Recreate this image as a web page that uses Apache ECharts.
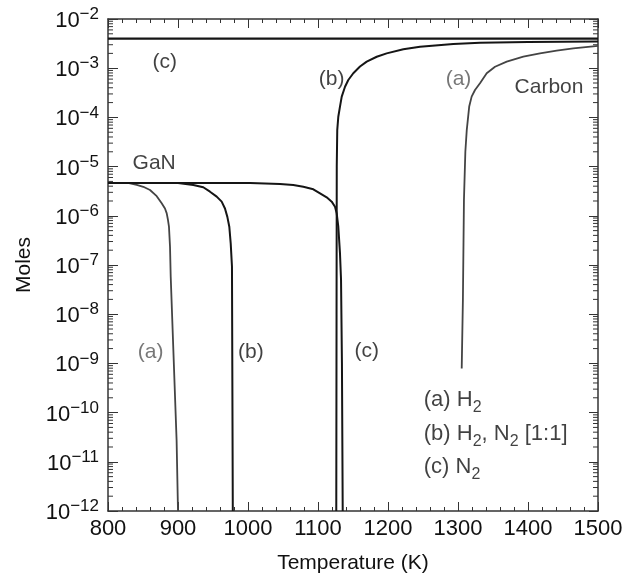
<!DOCTYPE html>
<html>
<head>
<meta charset="utf-8">
<script src="https://cdn.jsdelivr.net/npm/echarts@6/dist/echarts.min.js"></script>
<style>
  html, body { margin: 0; padding: 0; background: #fff; }
  #chart { width: 625px; height: 574px; }
</style>
</head>
<body>
<div id="chart"></div>
<script>
// axis ranges
const X_MIN = 800;
const X_MAX = 1500;
const Y_MIN = 1e-12;
const Y_MAX = 1e-2;

// GaN curves (temperature K, moles)
const ganA_T = [800, 830, 841, 850.4, 860, 869.6, 876.7, 881.4, 883.9, 885.7, 887.1, 888.6, 889.6, 898, 900];
const ganA_M = [4.65e-6, 4.62e-6, 4.23e-6, 3.89e-6, 3.34e-6, 2.51e-6, 1.79e-6, 1.41e-6, 1.12e-6, 8.2e-7, 6.0e-7, 2.34e-7, 5.75e-8, 2.75e-11, 1e-12];

const ganB_T = [800, 900, 921.9, 936.1, 945.7, 955.3, 962.4, 967.1, 970.5, 973.3, 975.3, 977.1, 978.3];
const ganB_M = [4.65e-6, 4.62e-6, 4.23e-6, 3.8e-6, 3.09e-6, 2.45e-6, 1.94e-6, 1.41e-6, 9.5e-7, 6.0e-7, 2.75e-7, 9.3e-8, 1e-12];

const ganC_T = [800, 1003, 1045.7, 1064.7, 1079, 1093.3, 1102.9, 1112.4, 1119.6, 1124.3, 1126.7, 1129, 1131.4, 1132.9, 1134.2, 1135.3];
const ganC_M = [4.65e-6, 4.65e-6, 4.43e-6, 4.23e-6, 3.91e-6, 3.46e-6, 2.86e-6, 2.38e-6, 1.94e-6, 1.53e-6, 1.12e-6, 6.0e-7, 1.74e-7, 5.0e-8, 1e-9, 1e-12];

// Carbon curves
const carbonA_T = [1305.3, 1307, 1308.5, 1310.5, 1312.5, 1316, 1319.5, 1324.3, 1331.4, 1341, 1352.9, 1369.6, 1393.3, 1417.1, 1440.9, 1464.7, 1500];
const carbonA_M = [7.9e-10, 1.95e-8, 2.1e-6, 2.0e-5, 5.5e-5, 1.66e-4, 2.64e-4, 3.6e-4, 4.93e-4, 7.9e-4, 1.07e-3, 1.36e-3, 1.71e-3, 2.0e-3, 2.27e-3, 2.54e-3, 2.83e-3];

const carbonB_T = [1126.1, 1126.5, 1126.8, 1127.5, 1129, 1131.4, 1133.9, 1138.6, 1143.3, 1150.4, 1160, 1169.6, 1183.9, 1198.1, 1221.9, 1245.7, 1293.3, 1331.4, 1400, 1500];
const carbonB_M = [1e-12, 1e-8, 1e-5, 5.5e-5, 1.03e-4, 1.66e-4, 2.64e-4, 4.2e-4, 5.75e-4, 7.9e-4, 1.08e-3, 1.36e-3, 1.71e-3, 2.0e-3, 2.42e-3, 2.74e-3, 3.1e-3, 3.3e-3, 3.42e-3, 3.5e-3];

const carbonC_T = [800, 1500];
const carbonC_M = [4.0e-3, 4.0e-3];

// annotations
const noteTexts = ['(c)', '(b)', '(a)', 'Carbon', 'GaN', '(a)', '(b)', '(c)'];
const noteTemps = [881, 1119.5, 1300.7, 1430, 866, 861, 1004, 1169.5];
const noteMoles = [1.35e-3, 6.0e-4, 6.0e-4, 4.17e-4, 1.17e-5, 1.7e-9, 1.7e-9, 1.8e-9];

const legendTexts = ['{m|(a) H}{s|2}', '{m|(b) H}{s|2}{m|, N}{s|2}{m| [1:1]}', '{m|(c) N}{s|2}'];
const legendTemp = 1250.4;
const legendMoles = [1.6e-10, 3.3e-11, 7.0e-12];

const FONT = '"Liberation Sans", Arial, sans-serif';
const INK = '#111';

const zip = (xs, ys) => xs.map((x, i) => [x, ys[i]]);

// log minor ticks 2..9 per decade
const minorLogTicks = [];
for (let e = -12; e < -2; e++) {
  for (let k = 2; k <= 9; k++) minorLogTicks.push(k * Math.pow(10, e));
}

const lineSeries = (name, data, color, width) => ({
  name,
  type: 'line',
  data,
  showSymbol: false,
  symbol: 'none',
  lineStyle: { color, width, join: 'round' },
  silent: true,
  z: 3,
});

const chart = echarts.init(document.getElementById('chart'));

const supLabel = (v) => {
  const e = Math.round(Math.log10(v));
  return '{b|10}{s|−' + (-e) + '}';
};

chart.setOption({
  animation: false,
  backgroundColor: '#fff',
  textStyle: { fontFamily: FONT },
  grid: { left: 108, right: 27, top: 19, bottom: 63, outerBoundsMode: 'none', containLabel: false },
  xAxis: [
    {
      type: 'value',
      min: X_MIN,
      max: X_MAX,
      interval: 100,
      name: 'Temperature (K)',
      nameLocation: 'middle',
      nameGap: 42,
      nameTextStyle: { fontSize: 21, color: INK, fontFamily: FONT },
      axisLine: { show: true, lineStyle: { color: '#333', width: 1.5 } },
      axisTick: { show: true, inside: true, length: 9, lineStyle: { color: '#333', width: 1 } },
      minorTick: { show: true, splitNumber: 5, length: 4, lineStyle: { color: '#333', width: 1 } },
      axisLabel: { fontSize: 22, color: INK, margin: 7, fontFamily: FONT, formatter: (v) => String(v) },
      splitLine: { show: false },
    },
    {
      type: 'value',
      position: 'top',
      min: X_MIN,
      max: X_MAX,
      interval: 100,
      axisLine: { show: true, lineStyle: { color: '#333', width: 1.5 } },
      axisTick: { show: true, inside: true, length: 9, lineStyle: { color: '#333', width: 1 } },
      minorTick: { show: true, splitNumber: 5, length: 4, lineStyle: { color: '#333', width: 1 } },
      axisLabel: { show: false },
      splitLine: { show: false },
    },
  ],
  yAxis: [
    {
      type: 'log',
      logBase: 10,
      min: Y_MIN,
      max: Y_MAX,
      interval: 1,
      name: 'Moles',
      nameLocation: 'middle',
      nameGap: 73,
      nameRotate: 90,
      nameTextStyle: { fontSize: 21, color: INK, fontFamily: FONT },
      axisLine: { show: true, lineStyle: { color: '#333', width: 1.5 } },
      axisTick: { show: true, inside: true, length: 10, lineStyle: { color: '#333', width: 1 } },
      minorTick: { show: false },
      axisLabel: {
        margin: 9,
        color: INK,
        formatter: supLabel,
        rich: {
          b: { fontSize: 22, color: INK, fontFamily: FONT, verticalAlign: 'bottom', padding: [4, 0, 0, 0] },
          s: { fontSize: 17, color: INK, fontFamily: FONT, verticalAlign: 'top' },
        },
      },
      splitLine: { show: false },
    },
    {
      type: 'log',
      logBase: 10,
      position: 'right',
      min: Y_MIN,
      max: Y_MAX,
      interval: 1,
      axisLine: { show: true, lineStyle: { color: '#333', width: 1.5 } },
      axisTick: { show: true, inside: true, length: 9, lineStyle: { color: '#333', width: 1 } },
      axisLabel: { show: false },
      splitLine: { show: false },
    },
  ],
  series: [
    {
      type: 'custom',
      name: 'minorTicks',
      silent: true,
      z: 1,
      data: minorLogTicks.map((v) => [X_MIN, v]),
      renderItem: (params, api) => {
        const v = api.value(1);
        const l = api.coord([X_MIN, v]);
        const r = api.coord([X_MAX, v]);
        const st = { stroke: '#333', lineWidth: 1 };
        return {
          type: 'group',
          children: [
            { type: 'line', shape: { x1: l[0], y1: l[1], x2: l[0] + 5, y2: l[1] }, style: st },
            { type: 'line', shape: { x1: r[0], y1: r[1], x2: r[0] - 5, y2: r[1] }, style: st },
          ],
        };
      },
    },
    lineSeries('GaN (a)', zip(ganA_T, ganA_M), '#444', 1.8),
    lineSeries('GaN (b)', zip(ganB_T, ganB_M), '#151515', 2),
    lineSeries('GaN (c)', zip(ganC_T, ganC_M), '#151515', 2),
    lineSeries('Carbon (a)', zip(carbonA_T, carbonA_M), '#444', 1.8),
    lineSeries('Carbon (b)', zip(carbonB_T, carbonB_M), '#151515', 2),
    lineSeries('Carbon (c)', zip(carbonC_T, carbonC_M), '#151515', 2.2),
    {
      type: 'scatter',
      name: 'notes',
      silent: true,
      symbolSize: 1,
      itemStyle: { color: 'rgba(0,0,0,0)' },
      labelLayout: { hideOverlap: false },
      z: 5,
      data: noteTexts.map((t, i) => ({
        value: [noteTemps[i], noteMoles[i]],
        label: {
          show: true,
          position: 'inside',
          formatter: t,
          fontSize: 21,
          fontFamily: FONT,
          color: t === '(a)' ? '#555' : INK,
        },
      })),
    },
    {
      type: 'scatter',
      name: 'legendNotes',
      silent: true,
      symbolSize: 1,
      itemStyle: { color: 'rgba(0,0,0,0)' },
      z: 5,
      data: legendTexts.map((t, i) => ({
        value: [legendTemp, legendMoles[i]],
        label: {
          show: true,
          position: 'right',
          distance: 0,
          formatter: t,
          rich: {
            m: { fontSize: 22, fontFamily: FONT, color: INK, verticalAlign: 'top' },
            s: { fontSize: 16, fontFamily: FONT, color: INK, verticalAlign: 'bottom', padding: [11, 0, 0, 0] },
          },
        },
      })),
    },
  ],
});
</script>
</body>
</html>
